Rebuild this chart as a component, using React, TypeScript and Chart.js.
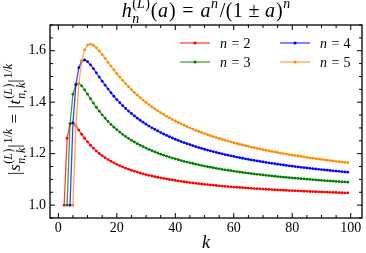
import React, { useEffect, useRef } from 'react';
import { Chart, registerables } from 'chart.js';

Chart.register(...registerables);

// ---- data: |s_{n,k}|^{1/k}, k runs from n to 99 ----
const N_VALUES = [2, 3, 4, 5];
const K_FIRST = [2, 3, 4, 5];
const K_LAST = 99;

const S_N2 = [
  1.0000, 1.2599, 1.3161, 1.3195, 1.3077, 1.2917, 1.2754, 1.2599, 1.2457, 1.2328,
  1.2212, 1.2106, 1.2011, 1.1924, 1.1844, 1.1772, 1.1705, 1.1643, 1.1586, 1.1533,
  1.1484, 1.1438, 1.1396, 1.1356, 1.1318, 1.1283, 1.1249, 1.1218, 1.1188, 1.1160,
  1.1133, 1.1107, 1.1083, 1.1060, 1.1038, 1.1017, 1.0997, 1.0978, 1.0959, 1.0941,
  1.0924, 1.0908, 1.0892, 1.0877, 1.0863, 1.0849, 1.0835, 1.0822, 1.0809, 1.0797,
  1.0785, 1.0774, 1.0763, 1.0752, 1.0742, 1.0732, 1.0722, 1.0712, 1.0703, 1.0694,
  1.0686, 1.0677, 1.0669, 1.0661, 1.0653, 1.0645, 1.0638, 1.0631, 1.0624, 1.0617,
  1.0610, 1.0603, 1.0597, 1.0591, 1.0585, 1.0579, 1.0573, 1.0567, 1.0561, 1.0556,
  1.0551, 1.0545, 1.0540, 1.0535, 1.0530, 1.0525, 1.0521, 1.0516, 1.0511, 1.0507,
  1.0502, 1.0498, 1.0494, 1.0490, 1.0486, 1.0482, 1.0478, 1.0474,
];

const S_N3 = [
  1.0000, 1.3161, 1.4310, 1.4678, 1.4724, 1.4631, 1.4481, 1.4310, 1.4135, 1.3965,
  1.3803, 1.3651, 1.3508, 1.3376, 1.3253, 1.3138, 1.3031, 1.2932, 1.2838, 1.2751,
  1.2670, 1.2593, 1.2521, 1.2453, 1.2389, 1.2328, 1.2271, 1.2217, 1.2165, 1.2116,
  1.2069, 1.2025, 1.1982, 1.1942, 1.1903, 1.1866, 1.1830, 1.1796, 1.1764, 1.1732,
  1.1702, 1.1673, 1.1645, 1.1618, 1.1592, 1.1567, 1.1542, 1.1519, 1.1496, 1.1474,
  1.1453, 1.1432, 1.1412, 1.1393, 1.1374, 1.1356, 1.1338, 1.1321, 1.1304, 1.1288,
  1.1272, 1.1257, 1.1242, 1.1227, 1.1213, 1.1199, 1.1186, 1.1172, 1.1160, 1.1147,
  1.1135, 1.1123, 1.1111, 1.1100, 1.1088, 1.1077, 1.1067, 1.1056, 1.1046, 1.1036,
  1.1026, 1.1017, 1.1007, 1.0998, 1.0989, 1.0980, 1.0971, 1.0963, 1.0954, 1.0946,
  1.0938, 1.0930, 1.0923, 1.0915, 1.0907, 1.0900, 1.0893,
];

const S_N4 = [
  1.0000, 1.3195, 1.4678, 1.5341, 1.5596, 1.5640, 1.5575, 1.5453, 1.5304, 1.5142,
  1.4978, 1.4816, 1.4660, 1.4510, 1.4367, 1.4231, 1.4103, 1.3982, 1.3867, 1.3759,
  1.3657, 1.3560, 1.3468, 1.3381, 1.3298, 1.3220, 1.3145, 1.3074, 1.3006, 1.2942,
  1.2880, 1.2821, 1.2764, 1.2710, 1.2658, 1.2609, 1.2561, 1.2515, 1.2471, 1.2429,
  1.2388, 1.2348, 1.2310, 1.2273, 1.2238, 1.2204, 1.2171, 1.2138, 1.2107, 1.2077,
  1.2048, 1.2020, 1.1993, 1.1966, 1.1940, 1.1915, 1.1891, 1.1867, 1.1844, 1.1821,
  1.1799, 1.1778, 1.1757, 1.1737, 1.1717, 1.1698, 1.1679, 1.1661, 1.1643, 1.1626,
  1.1609, 1.1592, 1.1576, 1.1560, 1.1544, 1.1529, 1.1514, 1.1499, 1.1485, 1.1471,
  1.1457, 1.1444, 1.1431, 1.1418, 1.1405, 1.1393, 1.1381, 1.1369, 1.1357, 1.1346,
  1.1334, 1.1323, 1.1312, 1.1302, 1.1291, 1.1281,
];

const S_N5 = [
  1.0000, 1.3077, 1.4724, 1.5596, 1.6033, 1.6220, 1.6260, 1.6214, 1.6117, 1.5991,
  1.5850, 1.5702, 1.5551, 1.5402, 1.5257, 1.5115, 1.4979, 1.4849, 1.4724, 1.4604,
  1.4490, 1.4381, 1.4276, 1.4177, 1.4082, 1.3991, 1.3905, 1.3822, 1.3742, 1.3666,
  1.3593, 1.3523, 1.3456, 1.3392, 1.3330, 1.3270, 1.3213, 1.3158, 1.3104, 1.3053,
  1.3004, 1.2956, 1.2909, 1.2865, 1.2822, 1.2780, 1.2739, 1.2700, 1.2662, 1.2625,
  1.2589, 1.2555, 1.2521, 1.2488, 1.2456, 1.2425, 1.2395, 1.2366, 1.2337, 1.2309,
  1.2282, 1.2256, 1.2230, 1.2205, 1.2181, 1.2157, 1.2133, 1.2110, 1.2088, 1.2066,
  1.2045, 1.2024, 1.2004, 1.1984, 1.1965, 1.1946, 1.1927, 1.1909, 1.1891, 1.1873,
  1.1856, 1.1839, 1.1823, 1.1807, 1.1791, 1.1775, 1.1760, 1.1745, 1.1731, 1.1716,
  1.1702, 1.1688, 1.1674, 1.1661, 1.1648,
];

const SERIES = [S_N2, S_N3, S_N4, S_N5];

const X_TICKS = [0, 20, 40, 60, 80, 100];
const Y_TICKS = [1.0, 1.2, 1.4, 1.6];
const X_RANGE = [-2.85, 103.85];
const Y_RANGE = [0.95, 1.7];
const X_MINOR_STEP = 5;
const Y_MINOR_STEP = 0.05;

// ---- styles ----
const LINE_COLORS = ['rgba(255,0,0,0.75)', 'rgba(0,128,0,0.75)', 'rgba(0,0,255,0.75)', 'rgba(255,140,0,0.75)'];
const POINT_COLORS = ['#ff0000', '#008000', '#0000ff', '#ff8c00'];
const FAMILY = '"Liberation Serif", "Times New Roman", serif';
const W = 366;
const H = 253;

type Run = { t: string; it?: boolean; sc?: number; dy?: number; gap?: number };
type Item = Run | { stack: Run[][] };

const SUB = { sc: 0.7, dy: 0.3 };
const SUP = { sc: 0.7, dy: -0.45 };

const SUP_L: Run[] = [
  { t: '(', ...SUP },
  { t: 'L', it: true, ...SUP, gap: 0.03 },
  { t: ')', ...SUP },
];
const SUB_NK: Run[] = [
  { t: 'n', it: true, ...SUB },
  { t: ',', ...SUB, gap: 0.1 },
  { t: 'k', it: true, ...SUB },
];

const TITLE: Item[] = [
  { t: 'h', it: true, gap: 0.03 },
  { stack: [[{ t: 'n', it: true, ...SUB }], SUP_L] },
  { t: '', gap: 0.04 },
  { t: '(', gap: 0.02 },
  { t: 'a', it: true, gap: 0.05 },
  { t: ')' },
  { t: '', gap: 0.34 },
  { t: '=' },
  { t: '', gap: 0.34 },
  { t: 'a', it: true, gap: 0.03 },
  { t: 'n', it: true, ...SUP, gap: 0.08 },
  { t: '/', gap: 0.03 },
  { t: '(', gap: 0.02 },
  { t: '1' },
  { t: '', gap: 0.28 },
  { t: '±' },
  { t: '', gap: 0.28 },
  { t: 'a', it: true, gap: 0.05 },
  { t: ')', gap: 0.03 },
  { t: 'n', it: true, ...SUP },
];

const YLABEL: Item[] = [
  { t: '|', gap: 0.03 },
  { t: 's', it: true, gap: 0.05 },
  { stack: [SUB_NK, SUP_L] },
  { t: '|', gap: 0.05 },
  { t: '1/', ...SUP },
  { t: 'k', it: true, ...SUP },
  { t: '', gap: 0.32 },
  { t: '=' },
  { t: '', gap: 0.32 },
  { t: '|', gap: 0.03 },
  { t: 't', it: true, gap: 0.07 },
  { stack: [SUB_NK, SUP_L] },
  { t: '|', gap: 0.05 },
  { t: '1/', ...SUP },
  { t: 'k', it: true, ...SUP },
];

function setFont(ctx: CanvasRenderingContext2D, r: Run, size: number) {
  ctx.font = `${r.it ? 'italic ' : ''}${(size * (r.sc ?? 1)).toFixed(2)}px ${FAMILY}`;
}

function runsWidth(ctx: CanvasRenderingContext2D, runs: Run[], size: number) {
  let w = 0;
  for (const r of runs) {
    setFont(ctx, r, size);
    w += ctx.measureText(r.t).width + (r.gap ?? 0) * size;
  }
  return w;
}

function itemWidth(ctx: CanvasRenderingContext2D, it: Item, size: number) {
  if ('stack' in it) return Math.max(...it.stack.map((row) => runsWidth(ctx, row, size)));
  return runsWidth(ctx, [it], size);
}

function drawRuns(ctx: CanvasRenderingContext2D, runs: Run[], x: number, y: number, size: number) {
  for (const r of runs) {
    setFont(ctx, r, size);
    if (r.t) ctx.fillText(r.t, x, y + (r.dy ?? 0) * size);
    x += ctx.measureText(r.t).width + (r.gap ?? 0) * size;
  }
  return x;
}

function drawRich(
  ctx: CanvasRenderingContext2D,
  items: Item[],
  x: number,
  baseline: number,
  size: number,
  align: 'left' | 'center' = 'center',
) {
  const total = items.reduce((s, it) => s + itemWidth(ctx, it, size), 0);
  let cx = align === 'center' ? x - total / 2 : x;
  ctx.textAlign = 'left';
  ctx.textBaseline = 'alphabetic';
  ctx.fillStyle = '#000';
  for (const it of items) {
    if ('stack' in it) {
      const w = itemWidth(ctx, it, size);
      for (const row of it.stack) drawRuns(ctx, row, cx, baseline, size);
      cx += w;
    } else {
      cx = drawRuns(ctx, [it], cx, baseline, size);
    }
  }
}

const framePlugin = {
  id: 'frameAndText',
  afterDraw(chart: any) {
    const { ctx, chartArea: a, scales } = chart;
    const xs = scales.x;
    const ys = scales.y;
    ctx.save();

    // inward ticks on all four sides
    ctx.strokeStyle = '#000';
    ctx.lineWidth = 1;
    ctx.beginPath();
    const xTick = (v: number, len: number) => {
      const p = xs.getPixelForValue(v);
      ctx.moveTo(p, a.bottom);
      ctx.lineTo(p, a.bottom - len);
      ctx.moveTo(p, a.top);
      ctx.lineTo(p, a.top + len);
    };
    const yTick = (v: number, len: number) => {
      const p = ys.getPixelForValue(v);
      ctx.moveTo(a.left, p);
      ctx.lineTo(a.left + len, p);
      ctx.moveTo(a.right, p);
      ctx.lineTo(a.right - len, p);
    };
    X_TICKS.forEach((v) => xTick(v, 5));
    for (let i = Math.ceil(X_RANGE[0] / X_MINOR_STEP); i * X_MINOR_STEP <= X_RANGE[1]; i++) {
      const v = i * X_MINOR_STEP;
      if (!X_TICKS.includes(v)) xTick(v, 3);
    }
    Y_TICKS.forEach((v) => yTick(v, 5));
    for (let i = Math.ceil(Y_RANGE[0] / Y_MINOR_STEP - 1e-9); i * Y_MINOR_STEP <= Y_RANGE[1] + 1e-9; i++) {
      const v = i * Y_MINOR_STEP;
      if (!Y_TICKS.some((t) => Math.abs(t - v) < 1e-6)) yTick(v, 3);
    }
    ctx.stroke();

    ctx.lineWidth = 1.3;
    ctx.strokeRect(a.left, a.top, a.right - a.left, a.bottom - a.top);

    // title
    const midX = (a.left + a.right) / 2;
    drawRich(ctx, TITLE, midX, 17, 20);

    // x label
    drawRich(ctx, [{ t: 'k', it: true }], midX, 248, 18);

    // y label
    ctx.save();
    ctx.translate(20, (a.top + a.bottom) / 2 - 2);
    ctx.rotate(-Math.PI / 2);
    drawRich(ctx, YLABEL, 0, 0, 17);
    ctx.restore();

    // legend (2 columns, inside upper right)
    N_VALUES.forEach((n, i) => {
      const col = Math.floor(i / 2);
      const row = i % 2;
      const lx = a.right - 182 + col * 100;
      const ly = a.top + 18 + row * 19;
      ctx.strokeStyle = LINE_COLORS[i];
      ctx.lineWidth = 1.3;
      ctx.beginPath();
      ctx.moveTo(lx, ly);
      ctx.lineTo(lx + 30, ly);
      ctx.stroke();
      ctx.fillStyle = POINT_COLORS[i];
      ctx.beginPath();
      ctx.arc(lx + 15, ly, 1.6, 0, Math.PI * 2);
      ctx.fill();
      drawRich(
        ctx,
        [{ t: 'n', it: true, gap: 0.05 }, { t: '', gap: 0.28 }, { t: '=' }, { t: '', gap: 0.28 }, { t: String(n) }],
        lx + 40,
        ly + 4.5,
        14,
        'left',
      );
    });

    ctx.restore();
  },
};

export default function App() {
  const ref = useRef<HTMLCanvasElement | null>(null);

  useEffect(() => {
    if (!ref.current) return;
    const chart = new Chart(ref.current, {
      type: 'line',
      data: {
        datasets: SERIES.map((vals, i) => ({
          label: `n = ${N_VALUES[i]}`,
          data: vals.map((v, j) => ({ x: K_FIRST[i] + j, y: v })).filter((p) => p.x <= K_LAST),
          borderColor: LINE_COLORS[i],
          backgroundColor: POINT_COLORS[i],
          pointBackgroundColor: POINT_COLORS[i],
          pointBorderWidth: 0,
          pointRadius: 1.4,
          borderWidth: 1.3,
          tension: 0,
          fill: false,
          order: SERIES.length - i,
        })),
      },
      options: {
        animation: false,
        responsive: false,
        devicePixelRatio: 1,
        layout: { padding: { left: 0, right: 2, top: 25, bottom: 0 } },
        plugins: {
          legend: { display: false },
          title: { display: false },
          tooltip: { enabled: false },
        },
        scales: {
          x: {
            type: 'linear',
            min: X_RANGE[0],
            max: X_RANGE[1],
            grid: { display: false, drawTicks: false },
            border: { display: false },
            afterBuildTicks: (s: any) => {
              s.ticks = X_TICKS.map((v) => ({ value: v }));
            },
            afterFit: (s: any) => {
              s.height = 35;
            },
            ticks: {
              color: '#000',
              font: { family: FAMILY, size: 14 },
              padding: 2,
              maxRotation: 0,
              autoSkip: false,
              callback: (v: any) => String(v),
            },
          },
          y: {
            type: 'linear',
            min: Y_RANGE[0],
            max: Y_RANGE[1],
            grid: { display: false, drawTicks: false },
            border: { display: false },
            afterBuildTicks: (s: any) => {
              s.ticks = Y_TICKS.map((v) => ({ value: v }));
            },
            afterFit: (s: any) => {
              s.width = 50;
            },
            ticks: {
              color: '#000',
              font: { family: FAMILY, size: 14 },
              padding: 4,
              autoSkip: false,
              callback: (v: any) => Number(v).toFixed(1),
            },
          },
        },
      },
      plugins: [framePlugin],
    });
    return () => chart.destroy();
  }, []);

  return (
    <div style={{ position: 'fixed', left: 0, top: 0, width: W, height: H, background: '#fff' }}>
      <canvas ref={ref} width={W} height={H} style={{ display: 'block', width: W, height: H }} />
    </div>
  );
}
